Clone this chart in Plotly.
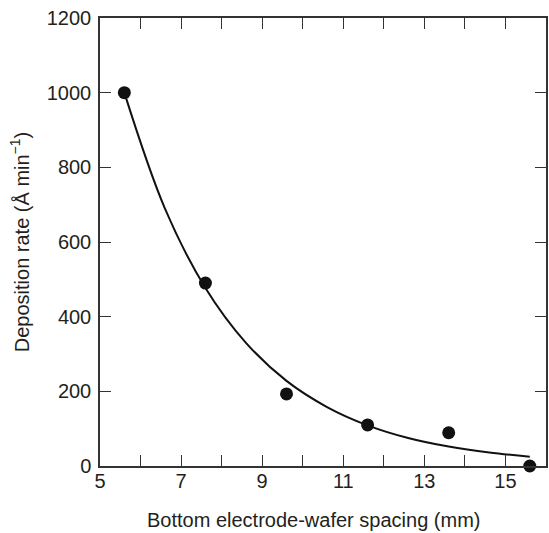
import plotly.graph_objects as go

# Measured data points
spacing_mm = [5.6, 7.6, 9.6, 11.6, 13.6, 15.6]
dep_rate = [1000, 490, 193, 110, 89, 0]

# Fitted curve
curve_x = [5.6, 6.6, 7.6, 8.6, 9.6, 10.6, 11.6, 12.6, 13.6, 14.6, 15.6]
curve_y = [1000, 690, 477, 330, 228, 158, 109, 75, 52, 36, 25]

x_tickvals = [5, 7, 9, 11, 13, 15]
y_tickvals = [0, 200, 400, 600, 800, 1000, 1200]

font_family = "Liberation Sans, Arial, sans-serif"
text_color = "#231f20"
axis_color = "#333333"
fs = 20

fig = go.Figure()
fig.add_trace(go.Scatter(
    x=curve_x, y=curve_y, mode="lines", line=dict(color="#111111", width=2, shape="spline"),
    showlegend=False, hoverinfo="skip"))
fig.add_trace(go.Scatter(
    x=spacing_mm, y=dep_rate, mode="markers",
    marker=dict(color="#111111", size=13), showlegend=False, cliponaxis=False))

tick_style = dict(ticks="inside", ticklen=11, tickwidth=1.3, tickcolor=axis_color)
minor_x = dict(ticks="inside", dtick=1, tick0=5, ticklen=11, tickwidth=1.3,
               tickcolor=axis_color, showgrid=False)

fig.update_xaxes(
    range=[5, 16], tickvals=x_tickvals, minor=minor_x,
    showgrid=False, zeroline=False, showline=True, linecolor=axis_color, linewidth=1.5,
    mirror=True, ticklabelstandoff=-4,
    tickfont=dict(family=font_family, size=fs, color=text_color), **tick_style)
fig.update_yaxes(
    range=[0, 1200], tickvals=y_tickvals,
    showgrid=False, zeroline=False, showline=True, linecolor=axis_color, linewidth=1.5,
    mirror="ticks", ticklabelstandoff=3,
    tickfont=dict(family=font_family, size=fs, color=text_color),
    title=dict(text="Deposition rate (Å min<sup>−1</sup>)",
               font=dict(family=font_family, size=fs, color=text_color), standoff=12),
    **tick_style)

# overlay axes that carry the inside tick marks on all four sides
fig.update_layout(
    xaxis2=dict(overlaying="x", side="top", anchor="y", matches="x", range=[5, 16],
                tickvals=x_tickvals, minor=minor_x, showticklabels=False, showgrid=False,
                zeroline=False, showline=False, **tick_style),
    xaxis3=dict(overlaying="x", side="bottom", anchor="y", matches="x", range=[5, 16],
                tickvals=x_tickvals, minor=minor_x, showticklabels=False, showgrid=False,
                zeroline=False, showline=False, **tick_style),
    yaxis2=dict(overlaying="y", side="left", anchor="x", matches="y", range=[0, 1200],
                tickvals=y_tickvals, showticklabels=False, showgrid=False,
                zeroline=False, showline=False, **tick_style),
)
fig.add_trace(go.Scatter(x=[None], y=[None], xaxis="x2", yaxis="y",
                         showlegend=False, hoverinfo="skip"))
fig.add_trace(go.Scatter(x=[None], y=[None], xaxis="x3", yaxis="y2",
                         showlegend=False, hoverinfo="skip"))

fig.add_annotation(
    text="Bottom electrode-wafer spacing (mm)", xref="paper", yref="paper",
    x=0.478, y=0, yshift=-54, xanchor="center", yanchor="middle", showarrow=False,
    font=dict(family=font_family, size=fs, color=text_color))

fig.update_layout(
    width=549, height=533,
    margin=dict(l=100, r=1, t=18, b=67),
    paper_bgcolor="white", plot_bgcolor="white",
)

fig.write_html("out.html")
